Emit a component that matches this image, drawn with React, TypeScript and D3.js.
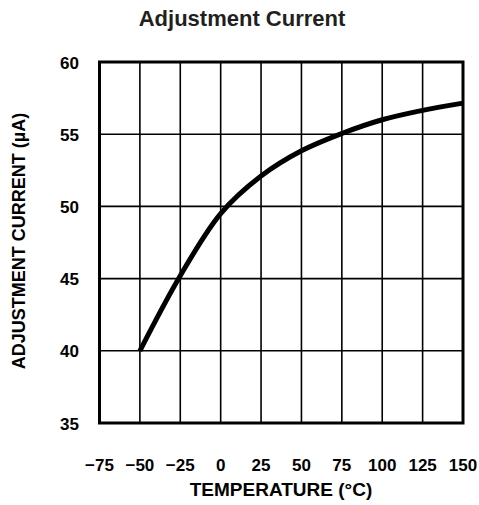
import React from "react";
import * as d3 from "d3";

const temperatures = [-50, -25, 0, 25, 50, 75, 100, 125, 150];
const currents = [40, 45.2, 49.5, 52.1, 53.85, 55.05, 56.0, 56.65, 57.15];
const xTicks = [-75, -50, -25, 0, 25, 50, 75, 100, 125, 150];
const yTicks = [35, 40, 45, 50, 55, 60];

const W = 479;
const H = 505;
const left = 99.5;
const top = 62;
const right = 463;
const bottom = 423;
const FONT = "'Liberation Sans', Arial, Helvetica, sans-serif";

export default function App() {
  const x = d3.scaleLinear().domain([-75, 150]).range([left, right]);
  const y = d3.scaleLinear().domain([35, 60]).range([bottom, top]);
  const line = d3
    .line<number>()
    .x((_, i) => x(temperatures[i]))
    .y((d) => y(d))
    .curve(d3.curveCatmullRom.alpha(0.5));
  const fmt = (v: number) => (v < 0 ? "\u2212" + Math.abs(v) : String(v));
  return (
    <svg
      width={W}
      height={H}
      style={{ position: "absolute", left: 0, top: 0, background: "#fff" }}
      fontFamily={FONT}
    >
      <rect x={0} y={0} width={W} height={H} fill="#fff" />
      <text x={242} y={26} textAnchor="middle" fontSize={22} fontWeight="bold" fill="#231f20">
        Adjustment Current
      </text>
      {xTicks.slice(1, -1).map((t) => (
        <line key={"gx" + t} x1={x(t)} x2={x(t)} y1={top} y2={bottom} stroke="#000" strokeWidth={1.6} />
      ))}
      {yTicks.slice(1, -1).map((t) => (
        <line key={"gy" + t} x1={left} x2={right} y1={y(t)} y2={y(t)} stroke="#000" strokeWidth={1.6} />
      ))}
      <rect x={left} y={top} width={right - left} height={bottom - top} fill="none" stroke="#000" strokeWidth={3} />
      <path d={line(currents) || ""} fill="none" stroke="#000" strokeWidth={5} strokeLinecap="butt" />
      {yTicks.map((t) => (
        <text key={"ty" + t} x={79} y={y(t) + 6.5} textAnchor="end" fontSize={17} fontWeight="bold" fill="#000">
          {t}
        </text>
      ))}
      {xTicks.map((t) => (
        <text key={"tx" + t} x={x(t)} y={470.5} textAnchor="middle" fontSize={17} fontWeight="bold" fill="#000">
          {fmt(t)}
        </text>
      ))}
      <text x={281} y={496} textAnchor="middle" fontSize={19} fontWeight="bold" fill="#000">
        TEMPERATURE (°C)
      </text>
      <text
        transform={`translate(25, 241) rotate(-90)`}
        textAnchor="middle"
        fontSize={18}
        fontWeight="bold"
        fill="#000"
      >
        ADJUSTMENT CURRENT (µA)
      </text>
    </svg>
  );
}
